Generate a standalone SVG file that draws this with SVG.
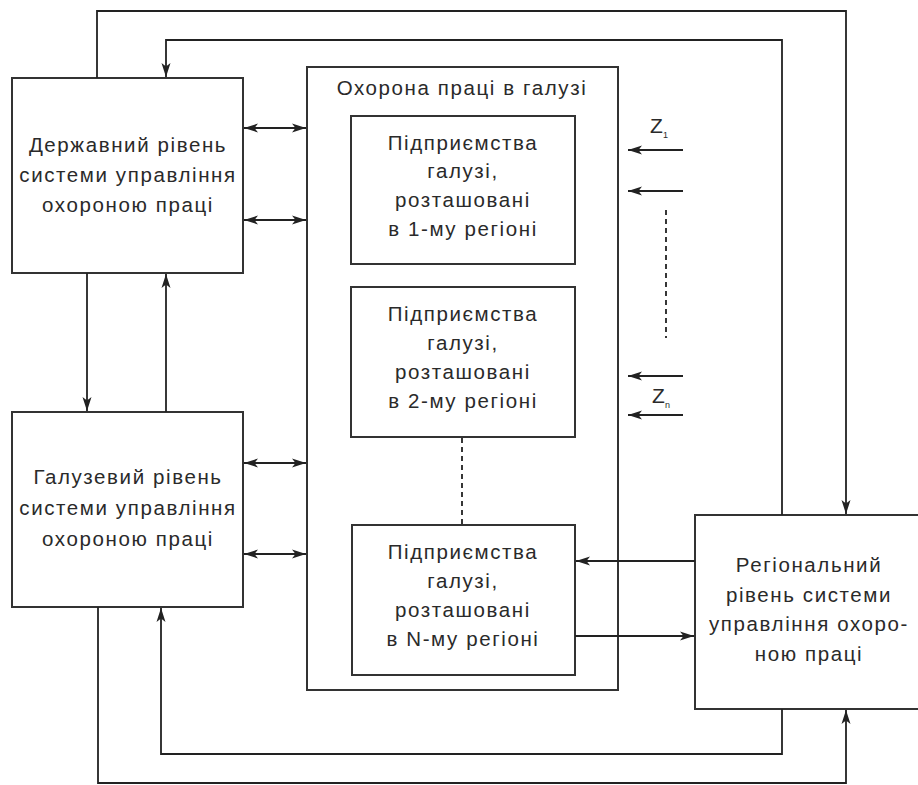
<svg xmlns="http://www.w3.org/2000/svg" width="918" height="785" viewBox="0 0 918 785">
<style>
.box{fill:#fff;stroke:#333;stroke-width:2}
.ln{fill:none;stroke:#222;stroke-width:1.8}
.dash{fill:none;stroke:#222;stroke-width:1.8;stroke-dasharray:5 4}
text{font-family:"Liberation Sans",Arial,sans-serif;font-size:20.5px;fill:#2a2a2a;text-anchor:middle;letter-spacing:1.6px}
.sub{font-size:9px;letter-spacing:0}
</style>
<defs>
<marker id="ah" viewBox="0 0 14 10" refX="14" refY="5" markerWidth="14" markerHeight="10" markerUnits="userSpaceOnUse" orient="auto-start-reverse">
<path d="M0,0.5 L14,5 L0,9.5 L3.5,5 Z" fill="#222"/>
</marker>
</defs>
<rect width="918" height="785" fill="#fff"/>
<g id="state-level">
<rect class="box" x="12" y="78" width="231" height="195"/>
<text x="128" y="152">Державний рівень</text>
<text x="128" y="182">системи управління</text>
<text x="128" y="212">охороною праці</text>
</g>
<g id="branch-level">
<rect class="box" x="12" y="412" width="231" height="195"/>
<text x="128" y="484">Галузевий рівень</text>
<text x="128" y="515">системи управління</text>
<text x="128" y="546">охороною праці</text>
</g>
<g id="industry-safety">
<rect class="box" x="307" y="67" width="311" height="623"/>
<text x="462" y="95">Охорона праці в галузі</text>
</g>
<g id="region-1">
<rect class="box" x="351" y="116" width="224" height="148"/>
<text x="463" y="150">Підприємства</text>
<text x="463" y="178">галузі,</text>
<text x="463" y="207">розташовані</text>
<text x="463" y="236">в 1-му регіоні</text>
</g>
<g id="region-2">
<rect class="box" x="351" y="287" width="224" height="150"/>
<text x="463" y="321">Підприємства</text>
<text x="463" y="350">галузі,</text>
<text x="463" y="379">розташовані</text>
<text x="463" y="408">в 2-му регіоні</text>
</g>
<g id="region-n">
<rect class="box" x="352" y="525" width="223" height="150"/>
<text x="463" y="559">Підприємства</text>
<text x="463" y="588">галузі,</text>
<text x="463" y="617">розташовані</text>
<text x="463" y="646">в N-му регіоні</text>
</g>
<g id="regional-level">
<rect class="box" x="695" y="515" width="226" height="194"/>
<text x="809" y="572">Регіональний</text>
<text x="809" y="602">рівень системи</text>
<text x="809" y="631">управління охоро-</text>
<text x="809" y="661">ною праці</text>
</g>
<g id="z-labels">
<text x="659" y="133" style="font-size:21px;letter-spacing:0">Z<tspan class="sub" dy="5">1</tspan></text>
<text x="661" y="403" style="font-size:21px;letter-spacing:0">Z<tspan class="sub" dy="5">n</tspan></text>
</g>
<g id="connectors">
<polyline class="ln" points="97,78 97,11 846,11 846,514" marker-end="url(#ah)"/>
<polyline class="ln" points="782,515 782,40 166,40 166,77" marker-end="url(#ah)"/>
<line class="ln" x1="87" y1="273" x2="87" y2="411" marker-end="url(#ah)"/>
<line class="ln" x1="166" y1="412" x2="166" y2="274" marker-end="url(#ah)"/>
<line class="ln" x1="244" y1="128" x2="306" y2="128" marker-start="url(#ah)" marker-end="url(#ah)"/>
<line class="ln" x1="244" y1="220" x2="306" y2="220" marker-start="url(#ah)" marker-end="url(#ah)"/>
<line class="ln" x1="244" y1="463" x2="306" y2="463" marker-start="url(#ah)" marker-end="url(#ah)"/>
<line class="ln" x1="244" y1="554" x2="306" y2="554" marker-start="url(#ah)" marker-end="url(#ah)"/>
<line class="ln" x1="695" y1="561" x2="576" y2="561" marker-end="url(#ah)"/>
<line class="ln" x1="575" y1="636" x2="694" y2="636" marker-end="url(#ah)"/>
<polyline class="ln" points="782,709 782,754 161,754 161,608" marker-end="url(#ah)"/>
<polyline class="ln" points="98,607 98,783 846,783 846,710" marker-end="url(#ah)"/>
<line class="ln" x1="683" y1="150" x2="628" y2="150" marker-end="url(#ah)"/>
<line class="ln" x1="683" y1="191" x2="628" y2="191" marker-end="url(#ah)"/>
<line class="ln" x1="683" y1="376" x2="628" y2="376" marker-end="url(#ah)"/>
<line class="ln" x1="683" y1="415" x2="628" y2="415" marker-end="url(#ah)"/>
<line class="dash" x1="666" y1="210" x2="666" y2="338"/>
<line class="dash" x1="462" y1="438" x2="462" y2="524"/>
</g>
</svg>
